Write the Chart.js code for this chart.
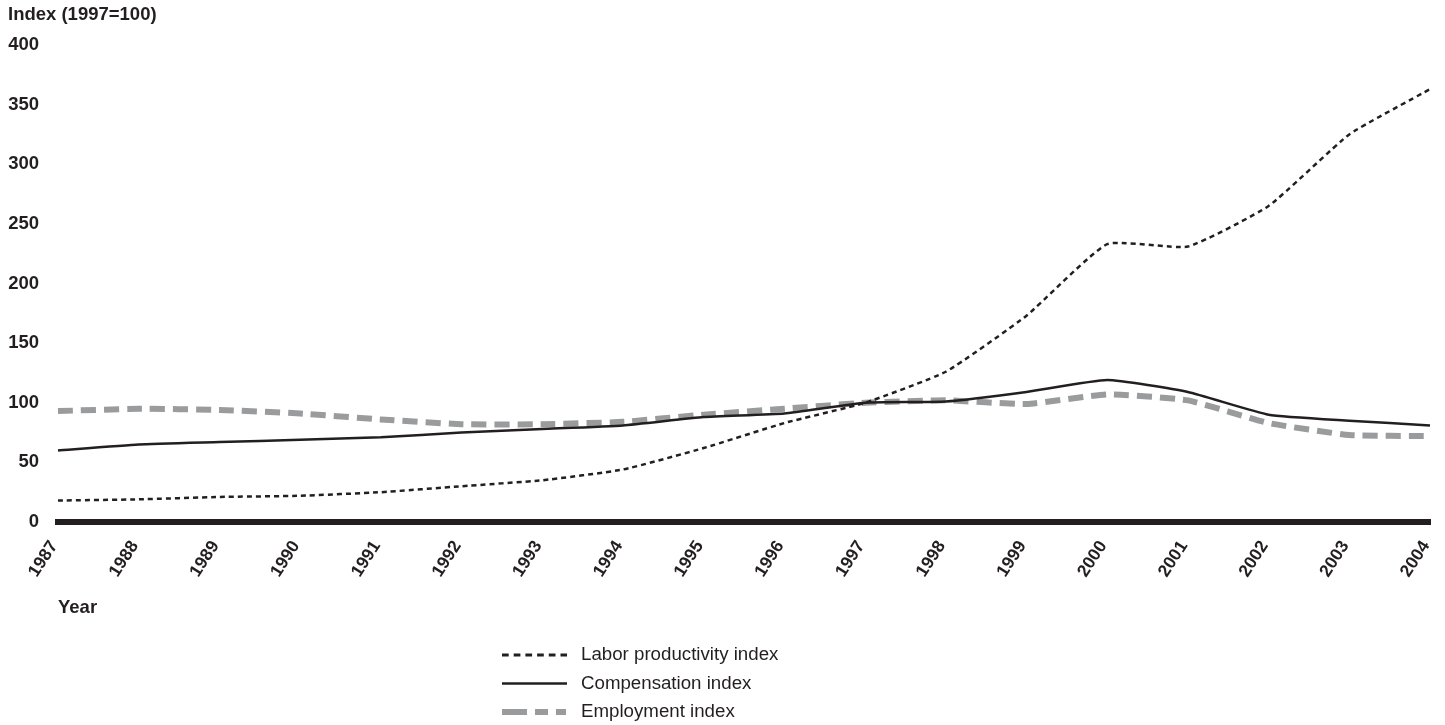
<!DOCTYPE html>
<html>
<head>
<meta charset="utf-8">
<script src="https://cdn.jsdelivr.net/npm/chart.js@4/dist/chart.umd.min.js"></script>
<style>
html,body{margin:0;padding:0;background:#fff;}
#wrap{width:1445px;height:725px;position:relative;}
</style>
</head>
<body>
<div id="wrap"><canvas id="c" width="1445" height="725"></canvas></div>
<script>
const years = ['1987','1988','1989','1990','1991','1992','1993','1994','1995','1996','1997','1998','1999','2000','2001','2002','2003','2004'];
const laborProductivity = [18,19,21,22,25,30,35,44,62,83,100,126,173,233,231,265,325,363];
const compensation = [60,65,67,69,71,75,78,81,88,91,100,101,109,119,109,90,85,81];
const employment = [93,95,94,91,86,82,82,84,90,95,100,102,99,107,102,83,73,72];
const yTicks = [0,50,100,150,200,250,300,350,400];
const yAxisTitle = 'Index (1997=100)';
const xAxisTitle = 'Year';

const INK = '#231f20';
const GRAY = '#9a9b9d';
const FONT = '"Liberation Sans", Arial, Helvetica, sans-serif';

const datasets = [
  {label:'Labor productivity index', data:laborProductivity, borderColor:INK, borderWidth:2.5, borderDash:[5,4], legendDash:[6.7,5], legendWidth:2.8},
  {label:'Compensation index', data:compensation, borderColor:INK, borderWidth:2.5, borderDash:[], legendDash:[], legendWidth:2.5},
  {label:'Employment index', data:employment, borderColor:GRAY, borderWidth:6, borderDash:[15,8], legendDash:[25,8,13,8,10,100], legendWidth:6}
].map(d => Object.assign({pointRadius:0, pointHoverRadius:0, tension:0.15, fill:false, backgroundColor:d.borderColor, borderCapStyle:'butt'}, d));

const textPlugin = {
  id:'textPlugin',
  afterDraw(chart){
    const ctx = chart.ctx;
    ctx.save();
    ctx.fillStyle = INK;
    ctx.font = 'bold 18.5px ' + FONT;
    ctx.textAlign = 'left';
    ctx.textBaseline = 'middle';
    ctx.fillText(yAxisTitle, 8, 15);
    ctx.fillText(xAxisTitle, chart.chartArea.left, 608);
    // legend
    const lx = 502, lw = 65, tx = 581;
    const rows = [655, 683.5, 712];
    ctx.font = '18.7px ' + FONT;
    chart.data.datasets.forEach((ds, i) => {
      const y = rows[i];
      ctx.beginPath();
      ctx.strokeStyle = ds.borderColor;
      ctx.lineWidth = ds.legendWidth;
      ctx.lineCap = 'butt';
      ctx.setLineDash(ds.legendDash);
      ctx.moveTo(lx, y);
      ctx.lineTo(lx + lw, y);
      ctx.stroke();
      ctx.setLineDash([]);
      ctx.fillStyle = INK;
      ctx.fillText(ds.label, tx, y);
    });
    ctx.restore();
  }
};

new Chart(document.getElementById('c'), {
  type:'line',
  data:{labels:years, datasets:datasets},
  options:{
    responsive:false,
    animation:false,
    events:[],
    layout:{padding:{left:8, right:15, top:45, bottom:0}},
    plugins:{legend:{display:false}, tooltip:{enabled:false}, title:{display:false}},
    scales:{
      x:{
        type:'category',
        offset:false,
        grid:{display:false, drawTicks:false},
        border:{display:true, color:INK, width:6},
        ticks:{autoSkip:false, minRotation:57, maxRotation:57, padding:15, labelOffset:-4, color:INK, font:{family:FONT, size:17.5, weight:'bold'}},
        afterFit(axis){ axis.height = 203; axis.paddingLeft = 0; axis.paddingRight = 0; }
      },
      y:{
        min:0, max:400,
        afterBuildTicks(axis){ axis.ticks = yTicks.map(v => ({value:v})); },
        grid:{display:false, drawTicks:false},
        border:{display:false},
        ticks:{padding:19, color:INK, font:{family:FONT, size:18.5, weight:'bold'}},
        afterFit(axis){ axis.width = 50; axis.paddingTop = 0; axis.paddingBottom = 0; }
      }
    }
  },
  plugins:[textPlugin]
});
</script>
</body>
</html>
